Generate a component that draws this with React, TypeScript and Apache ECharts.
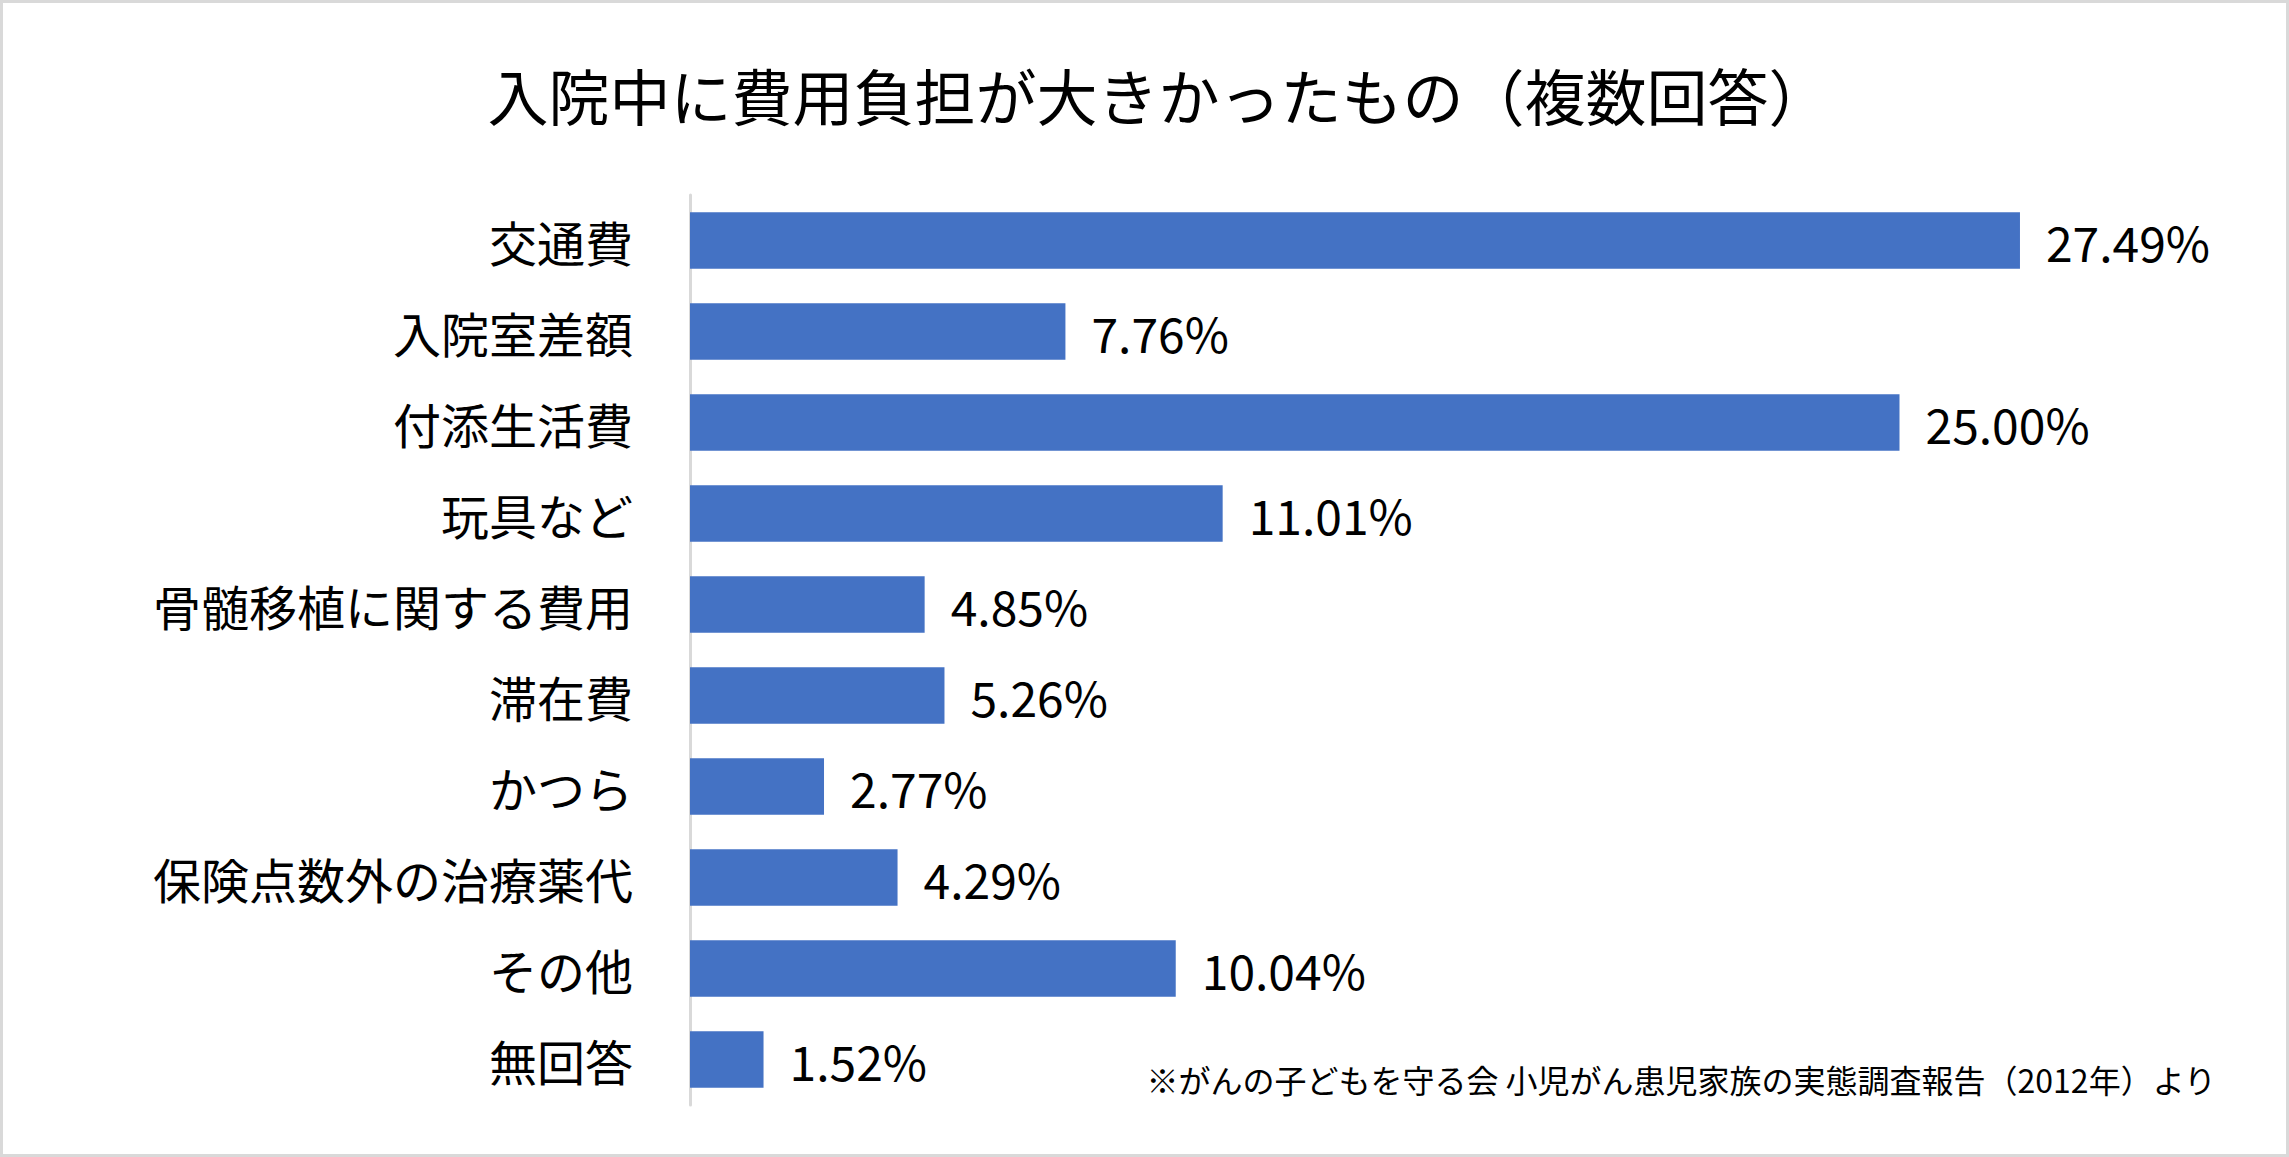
import React, { useEffect, useRef } from "react";
import * as echarts from "echarts";

const categories = [
  "交通費",
  "入院室差額",
  "付添生活費",
  "玩具など",
  "骨髄移植に関する費用",
  "滞在費",
  "かつら",
  "保険点数外の治療薬代",
  "その他",
  "無回答",
];
const values = [27.49, 7.76, 25.0, 11.01, 4.85, 5.26, 2.77, 4.29, 10.04, 1.52];
const titleText = "入院中に費用負担が大きかったもの（複数回答）";
const noteText = "※がんの子どもを守る会 小児がん患児家族の実態調査報告（2012年）より";

const W = 2289;
const H = 1157;
const FONT = '"Noto Sans CJK JP", "Noto Sans", sans-serif';

export default function App() {
  const ref = useRef<HTMLDivElement>(null);
  useEffect(() => {
    if (!ref.current) return;
    const chart = echarts.init(ref.current, undefined, { renderer: "svg" });
    chart.setOption({
      animation: false,
      backgroundColor: "#ffffff",
      textStyle: { fontFamily: FONT },
      grid: { left: 690, right: W - 690 - 1451.4, top: 195, bottom: H - 1105 },
      xAxis: {
        type: "value",
        min: 0,
        max: 30,
        show: false,
      },
      yAxis: {
        type: "category",
        data: categories,
        inverse: true,
        axisLine: { show: true, lineStyle: { color: "#d9d9d9", width: 3 } },
        axisTick: { show: false },
        axisLabel: {
          color: "#000000",
          fontSize: 48,
          margin: 57,
          fontFamily: FONT,
          padding: [0, 0, 8, 0],
        },
      },
      series: [
        {
          type: "bar",
          data: values,
          barCategoryGap: "38%",
          itemStyle: { color: "#4472c4" },
          label: {
            show: true,
            position: "right",
            distance: 26,
            color: "#000000",
            fontSize: 48,
            fontFamily: FONT,
            padding: [0, 0, 6, 0],
            formatter: (p: any) => Number(p.value).toFixed(2) + "%",
          },
        },
      ],
      graphic: [
        {
          type: "rect",
          shape: { x: 1.5, y: 1.5, width: W - 3, height: H - 3 },
          style: { fill: "none", stroke: "#d9d9d9", lineWidth: 3 },
          silent: true,
        },
        {
          type: "text",
          x: W / 2 + 14,
          y: 94,
          style: {
            text: titleText,
            fontSize: 61,
            fontFamily: FONT,
            fill: "#000000",
            textAlign: "center",
            textVerticalAlign: "middle",
          },
        },
        {
          type: "text",
          x: 2216,
          y: 1079,
          style: {
            text: noteText,
            fontSize: 32,
            fontFamily: FONT,
            fill: "#000000",
            textAlign: "right",
            textVerticalAlign: "middle",
          },
        },
      ],
    });
    return () => chart.dispose();
  }, []);
  return (
    <div
      ref={ref}
      style={{ position: "fixed", left: 0, top: 0, width: W, height: H }}
    />
  );
}
